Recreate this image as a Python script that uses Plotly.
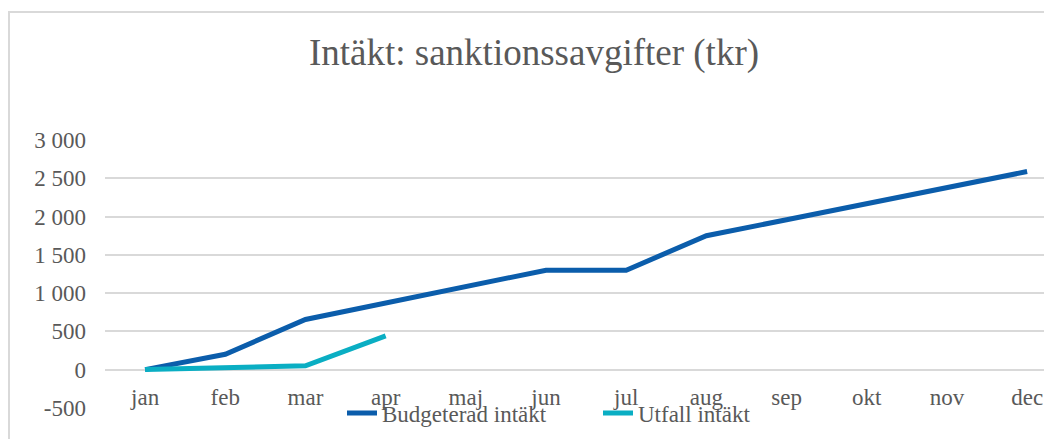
import plotly.graph_objects as go

months = ["jan", "feb", "mar", "apr", "maj", "jun", "jul", "aug", "sep", "okt", "nov", "dec"]
budget = [0, 200, 655, 870, 1085, 1300, 1300, 1750, 1960, 2170, 2380, 2590]
utfall_months = ["jan", "feb", "mar", "apr"]
utfall = [0, 25, 50, 440]

ytick_vals = [-500, 0, 500, 1000, 1500, 2000, 2500, 3000]
ytick_text = ["-500", "0", "500", "1 000", "1 500", "2 000", "2 500", "3 000"]

# page body has an 8px margin; figure coordinates = screen - 8
OFF = 8
W, H = 1052, 439
L, R, T, B = 97, 0, 132, 39
pw, ph = W - L - R, H - T - B

FONT = "Liberation Serif, Times New Roman, serif"
GRAY = "#595959"

fig = go.Figure()
fig.add_trace(go.Scatter(x=months, y=budget, mode="lines", name="Budgeterad intäkt",
                         line=dict(color="#0b5dab", width=5)))
fig.add_trace(go.Scatter(x=utfall_months, y=utfall, mode="lines", name="Utfall intäkt",
                         line=dict(color="#0aaec3", width=5)))

def px_x(p):
    return (p - OFF - L) / pw

def px_y(p):
    return (H - B - (p - OFF)) / ph

fig.update_layout(
    width=W, height=H,
    margin=dict(l=L, r=R, t=T, b=B, autoexpand=False),
    paper_bgcolor="white", plot_bgcolor="white",
    font=dict(family=FONT, color=GRAY, size=23),
    title=dict(text="Intäkt: sanktionssavgifter (tkr)", x=(534 - OFF) / W, xanchor="center",
               y=1 - (52 - OFF) / H, yanchor="middle", font=dict(size=37, color=GRAY, family=FONT)),
    xaxis=dict(type="category", range=[-0.5, 11.41], showgrid=False, anchor="free",
               position=502 / 3504, showline=False, ticks="", zeroline=False,
               tickfont=dict(size=23, color=GRAY, family=FONT), ticklabelstandoff=11,
               automargin=False),
    yaxis=dict(range=[-502, 3002], tickvals=ytick_vals, ticktext=ytick_text,
               showgrid=True, gridcolor="#d9d9d9", gridwidth=2, zeroline=False,
               showline=False, ticks="", tickfont=dict(size=23, color=GRAY, family=FONT),
               ticklabelstandoff=18, automargin=False),
    showlegend=True,
    legend=dict(orientation="h", x=px_x(342), xanchor="left", y=px_y(413), yanchor="middle",
                font=dict(size=23, color=GRAY, family=FONT), bgcolor="rgba(0,0,0,0)",
                itemwidth=30, tracegroupgap=0, entrywidth=211, entrywidthmode="pixels"),
    shapes=[
        dict(type="path", xref="paper", yref="paper",
             path=f"M {(1 - L) / pw} {px_y(450)} L {(1 - L) / pw} {px_y(12)} L {px_x(1070)} {px_y(12)}",
             line=dict(color="#d9d9d9", width=2)),
    ],
)

fig.write_html("out.html")
